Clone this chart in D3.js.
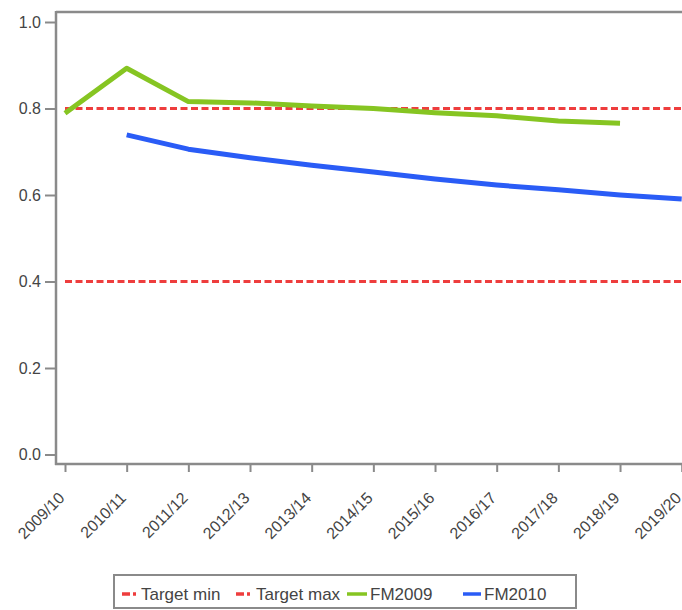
<!DOCTYPE html>
<html><head><meta charset="utf-8">
<script src="https://cdn.jsdelivr.net/npm/d3@7"></script>
<style>body{margin:0;background:#fff} svg{display:block}</style>
</head><body>
<svg id="c" width="682" height="610"></svg>
<script>
const categories = ["2009/10","2010/11","2011/12","2012/13","2013/14","2014/15","2015/16","2016/17","2017/18","2018/19","2019/20"];
const fm2009 = [0.789,0.893,0.816,0.813,0.806,0.800,0.790,0.783,0.771,0.766,null];
const fm2010 = [null,0.739,0.706,0.686,0.669,0.653,0.637,0.623,0.612,0.600,0.591];
const targetMin = categories.map(() => 0.4);
const targetMax = categories.map(() => 0.8);
const yTicks = [0,0.2,0.4,0.6,0.8,1.0];
const legendLabels = ["Target min","Target max","FM2009","FM2010"];

const svg = d3.select("#c");
const font = "'Liberation Sans',Arial,sans-serif";
const axisCol = "#8a8a8a", textCol = "#444";
const x = d3.scalePoint().domain(categories).range([65, 681.7]);
const y = d3.scaleLinear().domain([0,1]).range([454.5, 22]);

// frame
const frame = svg.append("g").attr("stroke", axisCol).attr("stroke-width", 2.5).attr("fill","none");
frame.append("line").attr("x1",56).attr("x2",700).attr("y1",12).attr("y2",12);
frame.append("line").attr("x1",56).attr("x2",56).attr("y1",11).attr("y2",465);
frame.append("line").attr("x1",55).attr("x2",700).attr("y1",464).attr("y2",464);

// y axis
const ya = svg.append("g").attr("transform","translate(56,0)")
  .call(d3.axisLeft(y).tickValues(yTicks).tickFormat(d3.format(".1f")).tickSize(11).tickPadding(4));
ya.select(".domain").remove();
ya.selectAll(".tick line").attr("stroke", axisCol).attr("stroke-width", 2);
ya.selectAll(".tick text").attr("fill", textCol).style("font-family", font).style("font-size","16px");

// x axis
const xa = svg.append("g").attr("transform","translate(0,464)")
  .call(d3.axisBottom(x).tickSize(8).tickPadding(6));
xa.select(".domain").remove();
xa.selectAll(".tick line").attr("stroke", axisCol).attr("stroke-width", 2);
xa.selectAll(".tick text").attr("fill", textCol).style("font-family", font).style("font-size","16px")
  .attr("text-anchor","end").attr("dy",0)
  .attr("transform","translate(0,35) rotate(-45)").attr("y",0).attr("x",0);

const line = d3.line().defined(d => d[1] != null).x(d => x(d[0])).y(d => y(d[1]));
const pairs = arr => categories.map((c,i) => [c, arr[i]]);

const red = "#ee3d3d", green = "#86c522", blue = "#2a5cf6";
svg.append("path").datum(pairs(targetMin)).attr("d", line).attr("fill","none")
  .attr("stroke", red).attr("stroke-width", 3).attr("stroke-dasharray","7,3.5");
svg.append("path").datum(pairs(targetMax)).attr("d", line).attr("fill","none")
  .attr("stroke", red).attr("stroke-width", 3).attr("stroke-dasharray","7,3.5");
svg.append("path").datum(pairs(fm2009)).attr("d", line).attr("fill","none")
  .attr("stroke", green).attr("stroke-width", 5).attr("stroke-linejoin","round");
svg.append("path").datum(pairs(fm2010)).attr("d", line).attr("fill","none")
  .attr("stroke", blue).attr("stroke-width", 5).attr("stroke-linejoin","round");

// legend
const lg = svg.append("g");
lg.append("rect").attr("x",114).attr("y",575).attr("width",462).attr("height",33)
  .attr("fill","none").attr("stroke",axisCol).attr("stroke-width",2);
const items = [
  {label: legendLabels[0], color: red, dash: "8,3,3", sx: 122, sw: 15, tx: 141},
  {label: legendLabels[1], color: red, dash: "8,3,3", sx: 236, sw: 15, tx: 256},
  {label: legendLabels[2], color: green, dash: null, sx: 347, sw: 20, tx: 370},
  {label: legendLabels[3], color: blue, dash: null, sx: 463, sw: 18, tx: 484}
];
items.forEach(it => {
  lg.append("line").attr("x1", it.sx).attr("x2", it.sx + it.sw).attr("y1", 594).attr("y2", 594)
    .attr("stroke", it.color).attr("stroke-width", 3.5).attr("stroke-dasharray", it.dash);
  lg.append("text").attr("x", it.tx).attr("y", 594).attr("dy","0.35em").text(it.label)
    .attr("fill", textCol).style("font-family", font).style("font-size","17px");
});
</script>
</body></html>
